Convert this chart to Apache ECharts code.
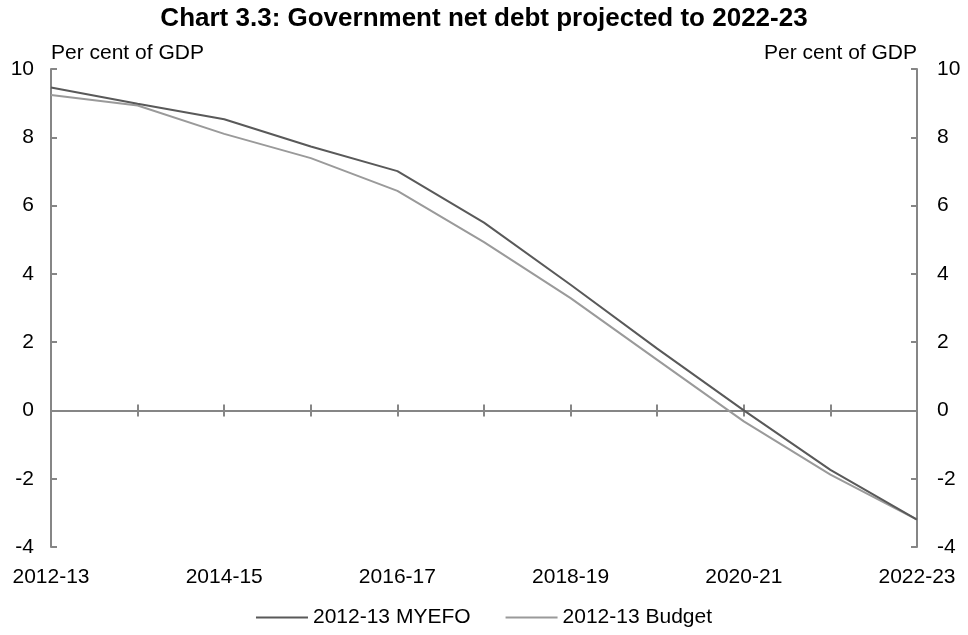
<!DOCTYPE html>
<html>
<head>
<meta charset="utf-8">
<title>Government net debt</title>
<script src="https://cdn.jsdelivr.net/npm/echarts@6/dist/echarts.min.js"></script>
<style>
  html, body { margin: 0; padding: 0; background: #fff; }
  #chart { width: 968px; height: 635px; }
</style>
</head>
<body>
<div id="chart"></div>
<script>
// Financial years on the horizontal axis
const years = ['2012-13', '2013-14', '2014-15', '2015-16', '2016-17', '2017-18',
               '2018-19', '2019-20', '2020-21', '2021-22', '2022-23'];
// Net debt, per cent of GDP
const myefo  = [9.46, 8.98, 8.53, 7.73, 7.01, 5.50, 3.68, 1.81, 0.0, -1.74, -3.2];
const budget = [9.24, 8.93, 8.10, 7.39, 6.43, 4.93, 3.29, 1.48, -0.32, -1.88, -3.2];
// Value axis range and step
const yMin = -4, yMax = 10, yStep = 2;
const seriesNames = ['2012-13 MYEFO', '2012-13 Budget'];

const FONT = '"Liberation Sans", Arial, sans-serif';
const AXIS_GREY = '#868686';
const LABEL_SIZE = 21;
const gridBox = { left: 51, right: 51, top: 69, bottom: 88 };

const chart = echarts.init(document.getElementById('chart'), null, { renderer: 'canvas' });

const valueAxisBase = {
  type: 'value', min: yMin, max: yMax, interval: yStep,
  splitLine: { show: false },
  axisLine: { show: true, lineStyle: { color: AXIS_GREY, width: 2 } },
  axisTick: { show: true, inside: true, length: 6, lineStyle: { color: AXIS_GREY, width: 2 } },
  axisLabel: { color: '#000', fontFamily: FONT, fontSize: LABEL_SIZE },
  nameTextStyle: { color: '#000', fontFamily: FONT, fontSize: LABEL_SIZE },
  nameGap: 5
};

chart.setOption({
  animation: false,
  backgroundColor: '#fff',
  title: {
    text: 'Chart 3.3: Government net debt projected to 2022-23',
    left: 'center', top: 1,
    textStyle: { fontFamily: FONT, fontSize: 26, fontWeight: 'bold', color: '#000' }
  },
  legend: {
    data: seriesNames,
    left: 'center', top: 602,
    icon: 'rect',
    itemWidth: 52, itemHeight: 2, itemGap: 35,
    textStyle: { fontFamily: FONT, fontSize: LABEL_SIZE, color: '#000' }
  },
  grid: [
    Object.assign({}, gridBox),
    Object.assign({}, gridBox)
  ],
  xAxis: [
    {
      // zero line with downward ticks
      gridIndex: 0, type: 'category', data: years, boundaryGap: false,
      position: 'bottom',
      axisLine: { show: true, onZero: true, lineStyle: { color: AXIS_GREY, width: 2 } },
      axisTick: { show: true, inside: false, length: 6, interval: 0, lineStyle: { color: AXIS_GREY, width: 2 } },
      axisLabel: { show: false }
    },
    {
      // zero line with upward ticks
      gridIndex: 0, type: 'category', data: years, boundaryGap: false,
      position: 'top',
      axisLine: { show: true, onZero: true, lineStyle: { color: AXIS_GREY, width: 2 } },
      axisTick: { show: true, inside: false, length: 6, interval: 0, lineStyle: { color: AXIS_GREY, width: 2 } },
      axisLabel: { show: false }
    },
    {
      // year labels along the bottom edge
      gridIndex: 1, type: 'category', data: years, boundaryGap: false,
      position: 'bottom',
      axisLine: { show: false, onZero: false },
      axisTick: { show: false },
      axisLabel: { interval: 1, margin: 20, color: '#000', fontFamily: FONT, fontSize: LABEL_SIZE }
    }
  ],
  yAxis: [
    Object.assign({}, valueAxisBase, {
      gridIndex: 0, position: 'left',
      name: 'Per cent of GDP', nameLocation: 'end',
      nameTextStyle: Object.assign({}, valueAxisBase.nameTextStyle, { align: 'left' }),
      axisLabel: Object.assign({}, valueAxisBase.axisLabel, { margin: 17 })
    }),
    Object.assign({}, valueAxisBase, {
      gridIndex: 0, position: 'right',
      name: 'Per cent of GDP', nameLocation: 'end',
      nameTextStyle: Object.assign({}, valueAxisBase.nameTextStyle, { align: 'right' }),
      axisLabel: Object.assign({}, valueAxisBase.axisLabel, { margin: 20 })
    }),
    {
      gridIndex: 1, type: 'value', min: yMin, max: yMax, interval: yStep,
      show: false, splitLine: { show: false }
    }
  ],
  series: [
    {
      name: seriesNames[0], type: 'line', data: myefo,
      xAxisIndex: 0, yAxisIndex: 0, z: 4,
      symbol: 'none', smooth: false,
      lineStyle: { color: '#595959', width: 2 },
      itemStyle: { color: '#595959' }
    },
    {
      name: seriesNames[1], type: 'line', data: budget,
      xAxisIndex: 0, yAxisIndex: 0, z: 3,
      symbol: 'none', smooth: false,
      lineStyle: { color: '#9a9a9a', width: 2 },
      itemStyle: { color: '#9a9a9a' }
    }
  ]
});
</script>
</body>
</html>
